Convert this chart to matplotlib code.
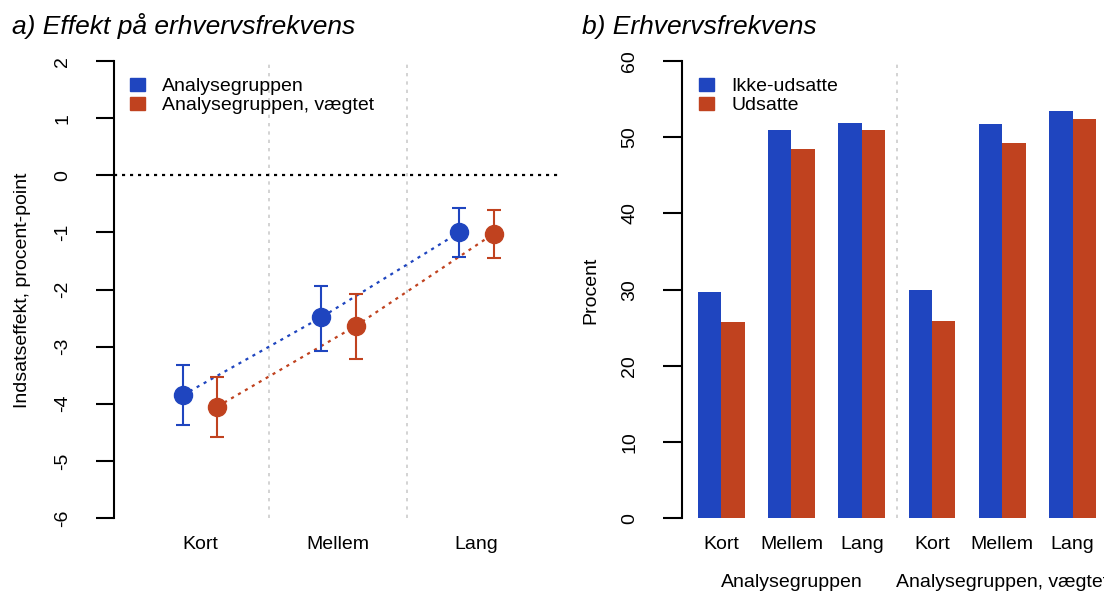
import matplotlib
matplotlib.use("Agg")
import matplotlib.pyplot as plt
from matplotlib.patches import Patch
from matplotlib.transforms import blended_transform_factory

plt.rcParams['font.family'] = ['Liberation Sans', 'DejaVu Sans']

# ---------------- data ----------------
categories = ["Kort", "Mellem", "Lang"]
series_a = ["Analysegruppen", "Analysegruppen, vægtet"]
est_unw = [-3.85, -2.49, -1.00]
lo_unw = [-4.38, -3.07, -1.43]
hi_unw = [-3.32, -1.93, -0.58]
est_w = [-4.05, -2.64, -1.02]
lo_w = [-4.58, -3.22, -1.45]
hi_w = [-3.53, -2.08, -0.61]

groups_b = ["Analysegruppen", "Analysegruppen, vægtet"]
series_b = ["Ikke-udsatte", "Udsatte"]
ikke_udsatte = [29.7, 50.9, 51.9, 30.0, 51.8, 53.4]
udsatte = [25.8, 48.4, 51.0, 25.9, 49.2, 52.4]

yticks_a = [2, 1, 0, -1, -2, -3, -4, -5, -6]
yticks_b = [0, 10, 20, 30, 40, 50, 60]

BLUE = "#1F45BF"
RED = "#C0421F"
FS = 14
TFS = 19

W, H = 1104, 592
fig = plt.figure(figsize=(W / 100, H / 100), dpi=100)


def px_axes(l, r, t, b):
    return fig.add_axes([l / W, 1 - b / H, (r - l) / W, (b - t) / H])


# ---------------- panel a ----------------
axA = px_axes(114.3, 562.3, 42.8, 536.2)
axA.set_xlim(0.38, 3.62)
axA.set_ylim(-6.32, 2.32)
for s in ["top", "right", "bottom"]:
    axA.spines[s].set_visible(False)
axA.spines["left"].set_bounds(-6, 2)
axA.spines["left"].set_linewidth(1.5)
axA.set_yticks(yticks_a)
axA.set_yticklabels([str(v) for v in yticks_a], rotation=90, ha="center", va="center", fontsize=FS)
axA.tick_params(axis="y", length=13, width=1.5, pad=24)
axA.set_xticks([])

xpos = [1, 2, 3]
for sep in [1.5, 2.5]:
    axA.plot([sep, sep], [-6, 2], color="#CCCCCC", lw=1.2, dashes=(2, 3), zorder=1)
axA.axhline(0, color="black", lw=1.6, dashes=(1.4, 2.2), zorder=1)

off = 0.125
xb = [x - off for x in xpos]
xr = [x + off for x in xpos]
for xs, est, lo, hi, col in [(xb, est_unw, lo_unw, hi_unw, BLUE), (xr, est_w, lo_w, hi_w, RED)]:
    axA.plot(xs, est, color=col, lw=1.6, dashes=(1.4, 2.2), zorder=2)
    axA.errorbar(xs, est, yerr=[[e - l for e, l in zip(est, lo)], [h - e for e, h in zip(est, hi)]],
                 fmt="o", color=col, ms=13, elinewidth=1.5, capsize=5, capthick=1.5, zorder=3)

trA = blended_transform_factory(axA.transData, fig.transFigure)
for x, c in zip(xpos, categories):
    axA.text(x, 1 - 549.3 / H, c, transform=trA, ha="center", va="baseline", fontsize=FS)

fig.text(23 / W, 1 - 290 / H, "Indsatseffekt, procent-point", rotation=90,
         ha="center", va="center", fontsize=FS)

fig.legend(handles=[Patch(color=BLUE, label=series_a[0]), Patch(color=RED, label=series_a[1])],
           loc="center left", bbox_to_anchor=(130.4 / W, 1 - 95.9 / H), frameon=False,
           fontsize=FS, handlelength=0.76, handleheight=0.66, handletextpad=0.88,
           labelspacing=0.1, borderpad=0, borderaxespad=0)

fig.text(11.7 / W, 1 - 34.3 / H, "a) Effekt på erhvervsfrekvens", fontsize=TFS, style="italic",
         ha="left", va="baseline")

# ---------------- panel b ----------------
axB = px_axes(681.8, 1112.0, 42.8, 536.6)
axB.set_xlim(0.32, 18.68)
axB.set_ylim(-2.4, 62.4)
for s in ["top", "right", "bottom"]:
    axB.spines[s].set_visible(False)
axB.spines["left"].set_bounds(0, 60)
axB.spines["left"].set_linewidth(1.5)
axB.set_yticks(yticks_b)
axB.set_yticklabels([str(v) for v in yticks_b], rotation=90, ha="center", va="center", fontsize=FS)
axB.tick_params(axis="y", length=13.5, width=1.5, pad=24)

n = len(ikke_udsatte)
centers_blue = [1.5 + 3 * g for g in range(n)]
centers_red = [2.5 + 3 * g for g in range(n)]
axB.bar(centers_blue, ikke_udsatte, width=1.0, color=BLUE, edgecolor="none", zorder=2)
axB.bar(centers_red, udsatte, width=1.0, color=RED, edgecolor="none", zorder=2)
axB.plot([9.5, 9.5], [0, 60], color="#CCCCCC", lw=1.2, dashes=(2, 3), zorder=1)

group_centers = [2 + 3 * g for g in range(n)]
axB.set_xticks([])
trB = blended_transform_factory(axB.transData, fig.transFigure)
cat_b = categories * 2
for x, c in zip(group_centers, cat_b):
    axB.text(x, 1 - 549.3 / H, c, transform=trB, ha="center", va="baseline", fontsize=FS)
for i, gname in enumerate(groups_b):
    xc = sum(group_centers[3 * i:3 * i + 3]) / 3
    axB.text(xc, 1 - 587 / H, gname, transform=trB, ha="center", va="baseline", fontsize=FS,
             clip_on=False)

fig.text(591.3 / W, 1 - 290 / H, "Procent", rotation=90,
         ha="center", va="center", fontsize=FS)

fig.legend(handles=[Patch(color=BLUE, label=series_b[0]), Patch(color=RED, label=series_b[1])],
           loc="center left", bbox_to_anchor=(699.4 / W, 1 - 95.9 / H), frameon=False,
           fontsize=FS, handlelength=0.76, handleheight=0.66, handletextpad=0.88,
           labelspacing=0.1, borderpad=0, borderaxespad=0)

fig.text(581.7 / W, 1 - 34.3 / H, "b) Erhvervsfrekvens", fontsize=TFS, style="italic",
         ha="left", va="baseline")

fig.savefig("out.png", dpi=100)
